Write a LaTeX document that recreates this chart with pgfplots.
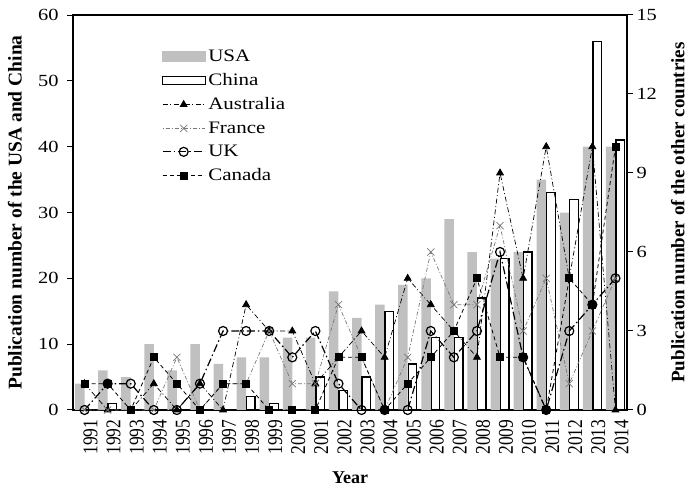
\documentclass[border=0pt]{standalone}
\usepackage{fontspec}
\setmainfont{Liberation Serif}
\newfontfamily\widefont[FakeStretch=1.2]{Liberation Serif}
\usepackage{pgfplots}
\pgfplotsset{compat=1.18}
\definecolor{usagray}{RGB}{192,192,192}
\definecolor{frgray}{RGB}{120,120,120}
\newcommand{\tickfont}{\widefont\fontsize{17}{20}\selectfont}
\newcommand{\legfont}{\widefont\fontsize{17.5}{21}\selectfont}
\newcommand{\yearfont}{\fontsize{17.5}{20}\selectfont}
\newcommand{\labfont}{\fontsize{19.5}{22}\selectfont\bfseries}
\newcommand{\yl}[1]{\scalebox{1}[1.2]{#1}}
\begin{document}
\begin{tikzpicture}
\useasboundingbox (-73pt,-80pt) rectangle (616pt,410pt);
\begin{axis}[
  at={(0pt,0pt)}, anchor=south west,
  width=554pt, height=395pt, scale only axis,
  xmin=1990.5, xmax=2014.5, ymin=0, ymax=60,
  ytick={0,10,...,60},
  xtick={1991,...,2014},
  xticklabels={\yl{1991},\yl{1992},\yl{1993},\yl{1994},\yl{1995},\yl{1996},\yl{1997},\yl{1998},\yl{1999},\yl{2000},\yl{2001},\yl{2002},\yl{2003},\yl{2004},\yl{2005},\yl{2006},\yl{2007},\yl{2008},\yl{2009},\yl{2010},\yl{2011},\yl{2012},\yl{2013},\yl{2014}},
  xticklabel style={rotate=90, anchor=east, font=\yearfont, yshift=-6pt},
  x tick style={draw=none},
  ytick pos=left, xtick pos=bottom,
  tick align=outside, major tick length=6pt,
  yticklabel style={font=\tickfont, xshift=-5pt},
  /pgf/number format/assume math mode=true,
  ylabel={Publication number of the USA and China},
  ylabel style={font=\labfont, at={(axis description cs:-0.105,0.5)}, anchor=center},
  xlabel={\fontsize{18}{20}\selectfont\bfseries Year},
  xlabel style={at={(axis description cs:0.5,-0.172)}, anchor=center},
  axis line style={line width=1.1pt},
  tick style={line width=1pt, black},
]
\addplot[ybar, bar width=9.5pt, bar shift=-4.75pt, fill=usagray, draw=none] coordinates {
(1991,4) (1992,6) (1993,5) (1994,10) (1995,6) (1996,10) (1997,7) (1998,8) (1999,8) (2000,11) (2001,11) (2002,18) (2003,14) (2004,16) (2005,19) (2006,20) (2007,29) (2008,24) (2009,23) (2010,24) (2011,35) (2012,30) (2013,40) (2014,40)};
\addplot[ybar, bar width=8.5pt, bar shift=4.75pt, fill=white, draw=black, line width=1.3pt] coordinates {
(1991,0) (1992,1) (1993,0) (1994,0) (1995,0) (1996,0) (1997,0) (1998,2) (1999,1) (2000,0) (2001,5) (2002,3) (2003,5) (2004,15) (2005,7) (2006,11) (2007,11) (2008,17) (2009,23) (2010,24) (2011,33) (2012,32) (2013,56) (2014,41)};
\end{axis}
\begin{axis}[
  at={(0pt,0pt)}, anchor=south west,
  width=554pt, height=395pt, scale only axis,
  xmin=1990.5, xmax=2014.5, ymin=0, ymax=15,
  axis y line*=right, axis x line=none,
  ytick={0,3,...,15},
  tick align=outside, major tick length=6pt,
  yticklabel style={font=\tickfont},
  /pgf/number format/assume math mode=true,
  ylabel={Publication number of the other countries},
  ylabel style={font=\fontsize{19}{22}\selectfont\bfseries, at={(axis description cs:1.0915,0.5)}, anchor=center},
  axis line style={line width=1.1pt},
  tick style={line width=1pt, black},
  clip=false,
  legend style={at={(0.155,0.922)}, anchor=north west, draw=none, fill=none,
    font=\legfont, row sep=6.5pt, cells={anchor=west}},
  legend image code/.code={\draw[mark repeat=2,mark phase=2,#1] plot coordinates {(0pt,0pt) (21pt,0pt) (42pt,0pt)};},
]
\addlegendimage{legend image code/.code={\fill[usagray] (0pt,-5pt) rectangle (43pt,5pt);}}
\addlegendentry{USA}
\addlegendimage{legend image code/.code={\draw[black, line width=1.2pt, fill=white] (0pt,-4pt) rectangle (43pt,4pt);}}
\addlegendentry{China}
\addplot[black, line width=0.7pt, dash pattern=on 5pt off 2.5pt on 1pt off 2.5pt, mark=triangle*, mark size=4pt, mark options={solid, fill=black}] coordinates {
(1991,1) (1992,0) (1993,0) (1994,1) (1995,0) (1996,1) (1997,0) (1998,4) (1999,3) (2000,3) (2001,1) (2002,2) (2003,3) (2004,2) (2005,5) (2006,4) (2007,3) (2008,2) (2009,9) (2010,5) (2011,10) (2012,5) (2013,10) (2014,0)};
\addlegendentry{Australia}
\addplot[frgray, line width=0.7pt, dash pattern=on 1pt off 2pt on 4pt off 2pt, mark=x, mark size=5pt, mark options={solid, line width=0.7pt}] coordinates {
(1991,0) (1992,0) (1993,0) (1994,0) (1995,2) (1996,0) (1997,1) (1998,1) (1999,3) (2000,1) (2001,1) (2002,4) (2003,2) (2004,0) (2005,2) (2006,6) (2007,4) (2008,4) (2009,7) (2010,3) (2011,5) (2012,1) (2013,3) (2014,5)};
\addlegendentry{France}
\addplot[black, line width=1.2pt, dash pattern=on 8pt off 3pt on 1.5pt off 3pt, mark=o, mark size=4.5pt, mark options={solid, line width=1.2pt}] coordinates {
(1991,0) (1992,1) (1993,1) (1994,0) (1995,0) (1996,1) (1997,3) (1998,3) (1999,3) (2000,2) (2001,3) (2002,1) (2003,0) (2004,0) (2005,0) (2006,3) (2007,2) (2008,3) (2009,6) (2010,2) (2011,0) (2012,3) (2013,4) (2014,5)};
\addlegendentry{UK}
\addplot[black, line width=0.8pt, dash pattern=on 4pt off 3pt, mark=square*, mark size=3.5pt, mark options={solid, fill=black}] coordinates {
(1991,1) (1992,1) (1993,0) (1994,2) (1995,1) (1996,0) (1997,1) (1998,1) (1999,0) (2000,0) (2001,0) (2002,2) (2003,2) (2004,0) (2005,1) (2006,2) (2007,3) (2008,5) (2009,2) (2010,2) (2011,0) (2012,5) (2013,4) (2014,10)};
\addlegendentry{Canada}
\end{axis}
\end{tikzpicture}
\end{document}
